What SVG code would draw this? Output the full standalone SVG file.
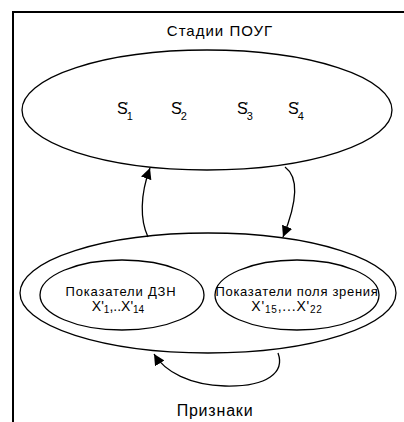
<svg xmlns="http://www.w3.org/2000/svg" width="404" height="422" viewBox="0 0 404 422">
<defs>
<style>
.sh{fill:none;stroke:#000;stroke-width:1.3}
.t{font-family:"Liberation Sans",Arial,sans-serif;fill:#000}
.c{fill:none;stroke:#000;stroke-width:1.3}
</style>
<marker id="ah" viewBox="0 0 10 10" refX="10" refY="5" markerWidth="11" markerHeight="11" markerUnits="userSpaceOnUse" orient="auto">
<path d="M0,0 L10,5 L0,10 z" fill="#000"/>
</marker>
</defs>
<rect width="404" height="422" fill="#fff"/>
<path d="M13,422 V12 H404" fill="none" stroke="#000" stroke-width="2"/>
<text class="t" x="220" y="36" font-size="15" letter-spacing="1" text-anchor="middle">Стадии ПОУГ</text>
<g id="stages">
<ellipse class="sh" cx="207" cy="110" rx="185" ry="60"/>
<text class="t" x="117" y="114" font-size="16">S<tspan dx="-2" dy="-4" font-size="11">'</tspan><tspan dx="-1" dy="10" font-size="11">1</tspan></text>
<text class="t" x="171" y="114" font-size="16">S<tspan dx="-2" dy="-4" font-size="11">'</tspan><tspan dx="-1" dy="10" font-size="11">2</tspan></text>
<text class="t" x="237" y="114" font-size="16">S<tspan dx="-2" dy="-4" font-size="11">'</tspan><tspan dx="-1" dy="10" font-size="11">3</tspan></text>
<text class="t" x="288" y="114" font-size="16">S<tspan dx="-2" dy="-4" font-size="11">'</tspan><tspan dx="-1" dy="10" font-size="11">4</tspan></text>
</g>
<g id="features">
<ellipse class="sh" cx="208" cy="293" rx="188" ry="60"/>
<text class="t" x="215" y="416" font-size="16" letter-spacing="0.8" text-anchor="middle">Признаки</text>
</g>
<g id="dzn">
<ellipse class="sh" cx="122" cy="295" rx="82" ry="35"/>
<text class="t" x="121" y="296" font-size="13" letter-spacing="0.8" text-anchor="middle">Показатели ДЗН</text>
<text class="t" x="118" y="311" font-size="14" text-anchor="middle">X'<tspan font-size="10" dy="2">1</tspan><tspan dy="-2">,..X'</tspan><tspan font-size="10" dy="2">14</tspan></text>
</g>
<g id="field">
<ellipse class="sh" cx="297" cy="295" rx="82" ry="35"/>
<text class="t" x="297" y="296" font-size="13" letter-spacing="0.7" text-anchor="middle">Показатели поля зрения</text>
<text class="t" x="287" y="311" font-size="14" letter-spacing="0.8" text-anchor="middle">X'<tspan font-size="10" dy="2">15</tspan><tspan dy="-2">,...X'</tspan><tspan font-size="10" dy="2">22</tspan></text>
</g>
<g id="connectors">
<path class="c" d="M148,237 C140,220 140,195 150,168" marker-end="url(#ah)"/>
<path class="c" d="M285,167 C300,178 296,205 283,237" marker-end="url(#ah)"/>
<path class="c" d="M278,353 C285,372 268,387 225,386 C190,385 165,372 154,354" marker-end="url(#ah)"/>
</g>
</svg>
